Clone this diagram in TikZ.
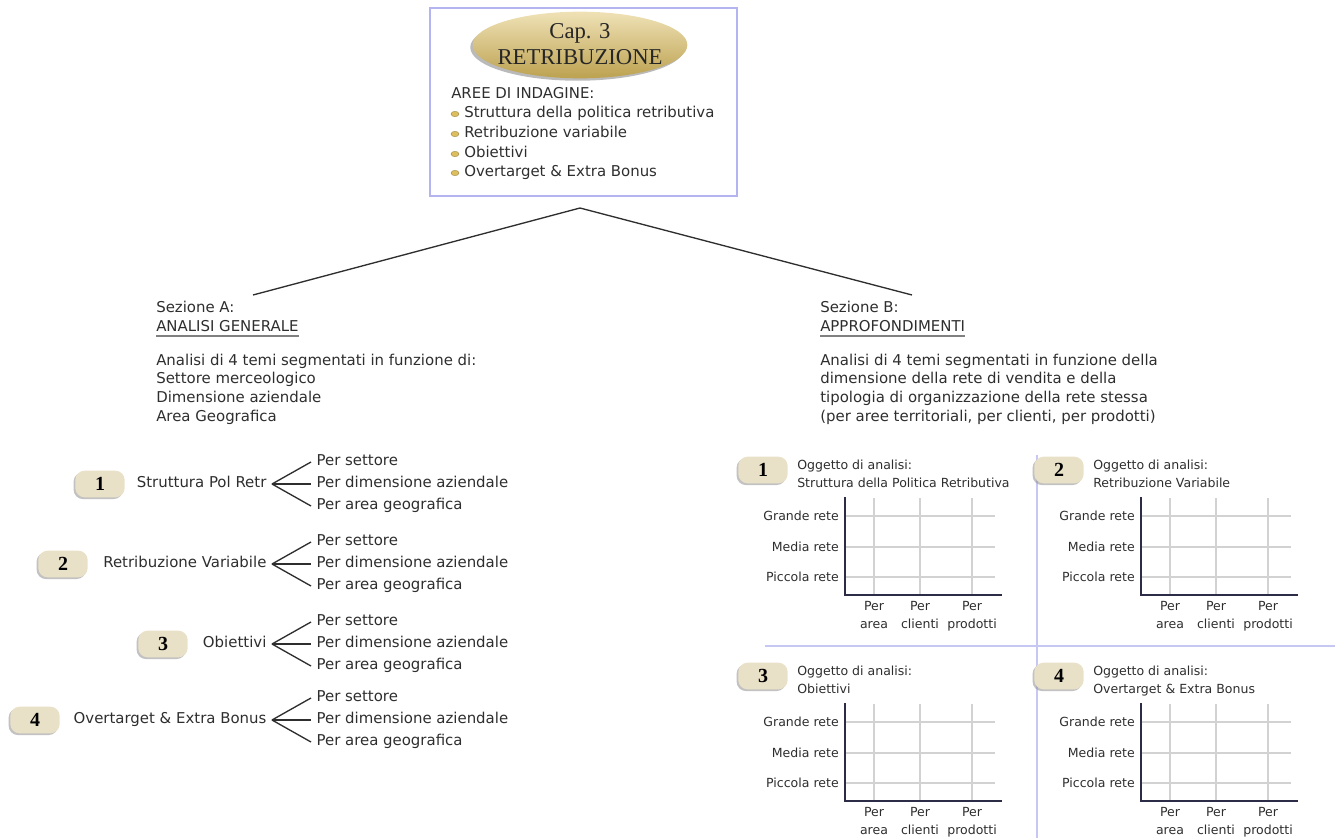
\documentclass[tikz,border=0pt]{standalone}
\usepackage{fontspec}
\setmainfont{DejaVu Sans}
\newfontfamily\serifnum{Liberation Serif}
\usetikzlibrary{shadows,shapes.geometric}
\definecolor{boxblue}{HTML}{B4B4F0}
\definecolor{badgefill}{HTML}{E9E1C7}
\definecolor{gold}{HTML}{DDBE5E}
\definecolor{axisc}{HTML}{2C2C46}
\definecolor{gridc}{HTML}{D2D2D2}
\definecolor{inkc}{HTML}{2E2E2E}
\begin{document}
\begin{tikzpicture}[x=0.75pt,y=-0.75pt,
  txt/.style={font=\fontsize{11.2}{14}\selectfont,text=inkc,inner sep=0pt,anchor=west,align=left},
  one/.style={text height=8pt,text depth=2.4pt},
  small/.style={font=\fontsize{9.4}{13.2}\selectfont,text=inkc,inner sep=0pt},
  badge/.style={rounded corners=7pt,fill=badgefill,minimum width=37pt,minimum height=20pt,inner sep=0pt,
    font=\serifnum\bfseries\fontsize{15}{15}\selectfont,
    drop shadow={shadow xshift=-1.3pt,shadow yshift=-1.3pt,fill=black!40,opacity=.6}},
  bullet/.style={ellipse,fill=gold,draw=gold!70!black,line width=.3pt,minimum width=6pt,minimum height=4pt,inner sep=0pt},
  link/.style={draw=inkc,line width=1pt}]
\useasboundingbox (0,0) rectangle (1335,838);
% chapter box
\node[draw=boxblue,line width=1.2pt,minimum width=230pt,minimum height=141pt,inner sep=0pt] (cap) at (583.5,102) {};
\node[ellipse,minimum width=161pt,minimum height=50pt,top color=gold!45!white,bottom color=gold!85!black,
  drop shadow={shadow xshift=-1.8pt,shadow yshift=-1.8pt,fill=black!45,opacity=.6}] (ov) at (580,45) {};
\node[font=\serifnum\fontsize{17}{19.5}\selectfont,align=center,text=black!85] (cap3) at (580,44) {Cap. 3\\RETRIBUZIONE};
\node[txt] (aree) at (451,93) {AREE DI INDAGINE:};
\foreach \i/\y/\t in {1/114/Struttura della politica retributiva,2/134/Retribuzione variabile,3/154/Obiettivi,4/173/Overtarget \& Extra Bonus}{
  \node[bullet] (k\i) at (455,\y) {};
  \node[txt,one] (a\i) at (464,\y) {\t};
}
% sections
\coordinate (apex) at (580,208);
\coordinate (endA) at (253,295);
\coordinate (endB) at (912,295);
\draw[link] (endA) -- (apex) -- (endB);
\node[txt] (secA) at (156,307) {Sezione A:};
\node[txt] (secAt) at (156,326) {ANALISI GENERALE};
\draw[gray,line width=1.5pt] ([yshift=-3pt]secAt.south west) -- ([yshift=-3pt]secAt.south east);
\node[txt] (secAd) at (156,389) {Analisi di 4 temi segmentati in funzione di:\\Settore merceologico\\Dimensione aziendale\\Area Geografica};
\node[txt] (secB) at (820,307) {Sezione B:};
\node[txt] (secBt) at (820,326) {APPROFONDIMENTI};
\draw[gray,line width=1.5pt] ([yshift=-3pt]secBt.south west) -- ([yshift=-3pt]secBt.south east);
\node[txt] (secBd) at (820,389) {Analisi di 4 temi segmentati in funzione della\\dimensione della rete di vendita e della\\tipologia di organizzazione della rete stessa\\(per aree territoriali, per clienti, per prodotti)};
% section A themes
\foreach \n/\bx/\y/\t in {1/100/484/Struttura Pol Retr,2/63/564/Retribuzione Variabile,3/163/644/Obiettivi,4/35/720/Overtarget \& Extra Bonus}{
  \node[badge] (b\n) at (\bx,\y) {\n};
  \node[txt,one,anchor=east,inner xsep=4pt] (l\n) at (272,\y) {\t};
  \node[txt,one,inner xsep=4pt] (s\n) at (311,\y-22) {Per settore};
  \node[txt,one,inner xsep=4pt] (d\n) at (311,\y) {Per dimensione aziendale};
  \node[txt,one,inner xsep=4pt] (g\n) at (311,\y+22) {Per area geografica};
  \draw[link] (l\n.east) -- (s\n.west);
  \draw[link] (l\n.east) -- (d\n.west);
  \draw[link] (l\n.east) -- (g\n.west);
}
% section B panels
\draw[boxblue!75,line width=1pt] (1037,455) -- (1037,838);
\draw[boxblue!75,line width=1pt] (765,646) -- (1335,646);
\foreach \n/\dx/\dy/\t in {1/0/0/Struttura della Politica Retributiva,2/296/0/Retribuzione Variabile,3/0/206/Obiettivi,4/296/206/Overtarget \& Extra Bonus}{
  \node[badge] (p\n) at (763+\dx,470+\dy) {\n};
  \node[small,anchor=north west,align=left] (o\n) at (797+\dx,460+\dy) {Oggetto di analisi:\\\t};
  \foreach \yy in {516,547,577} \draw[gridc,line width=.8pt] (845+\dx,\yy+\dy) -- (995+\dx,\yy+\dy);
  \foreach \xx in {874,920,972} \draw[gridc,line width=.8pt] (\xx+\dx,498+\dy) -- (\xx+\dx,595+\dy);
  \draw[axisc,line width=1.4pt] (845+\dx,497+\dy) -- (845+\dx,595+\dy) -- (1002+\dx,595+\dy);
  \node[small,anchor=east] (r\n) at (839+\dx,516+\dy) {Grande rete};
  \node[small,anchor=east] (m\n) at (839+\dx,547+\dy) {Media rete};
  \node[small,anchor=east] (q\n) at (839+\dx,577+\dy) {Piccola rete};
  \node[small,align=center,anchor=north] (ca\n) at (874+\dx,601+\dy) {Per\\area};
  \node[small,align=center,anchor=north] (cc\n) at (920+\dx,601+\dy) {Per\\clienti};
  \node[small,align=center,anchor=north] (cp\n) at (972+\dx,601+\dy) {Per\\prodotti};
}
\end{tikzpicture}
\end{document}
